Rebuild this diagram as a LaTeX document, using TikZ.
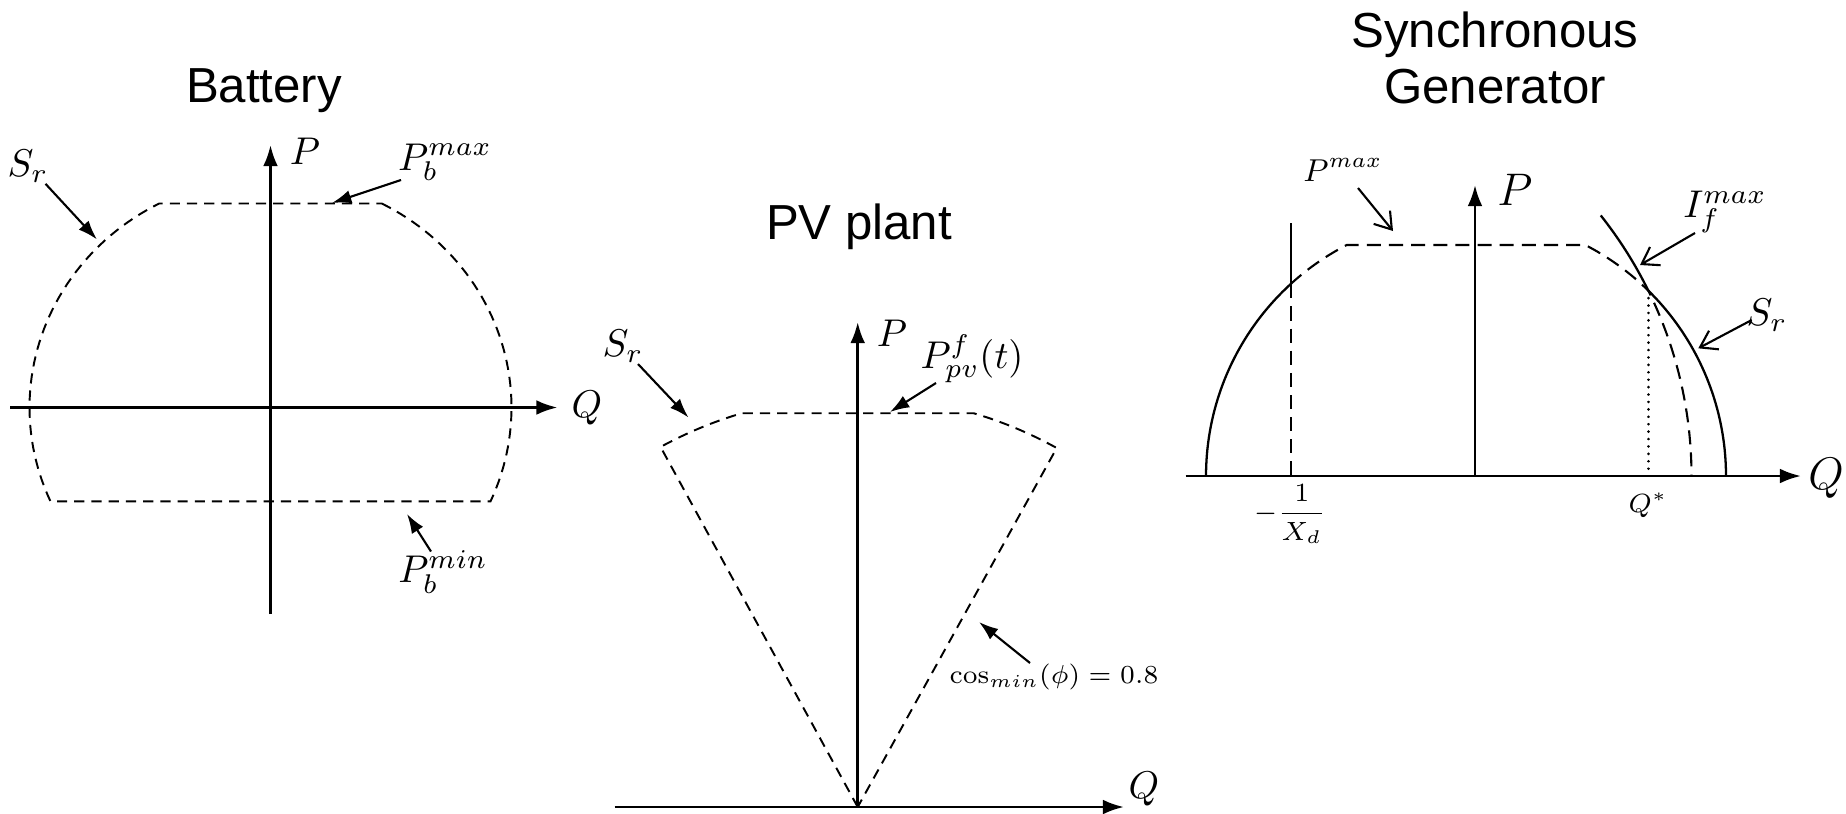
\RequirePackage{fix-cm}
\documentclass[tikz,border=0pt]{standalone}
\usepackage{fontspec}
\newfontfamily\titlefont{Liberation Sans}
\usetikzlibrary{arrows.meta}
\begin{document}
\begin{tikzpicture}[x=0.1mm,y=-0.1mm,
  axis/.style={line width=0.8pt,-{Latex[length=6pt,width=4.2pt]}},
  bnd/.style={line width=0.55pt,dash pattern=on 2.9pt off 2pt},
  sgbnd/.style={line width=0.6pt,dash pattern=on 4pt off 2.3pt},
  sgsolid/.style={line width=0.65pt},
  dotline/.style={line width=0.8pt,line cap=round,dash pattern=on 0.01pt off 2.1pt},
  ann/.style={line width=0.6pt,-{Latex[length=5.5pt,width=3.8pt]}},
  sgann/.style={line width=0.6pt,-{Straight Barb[length=4.5pt,width=6pt]}},
  ttl/.style={font=\titlefont\fontsize{14}{16.1}\selectfont,align=center,inner sep=0pt},
  lbl/.style={font=\fontsize{11}{13}\selectfont,inner sep=0pt},
  lblbig/.style={font=\fontsize{13}{15}\selectfont,inner sep=0pt},
  lblmid/.style={font=\fontsize{9}{11}\selectfont,inner sep=0pt},
  lblsmall/.style={font=\fontsize{7.4}{9}\selectfont,inner sep=0pt},
  lbltiny/.style={font=\fontsize{7.5}{9}\selectfont,inner sep=0pt}
]
\useasboundingbox (0,0) rectangle (1846,813);

% ================= Battery =================
\node[ttl] (bT) at (264,91) {Battery};
\coordinate (bO) at (270.5,407.5);
\coordinate (bPs) at (270.5,614);
\coordinate (bPe) at (270.5,145);
\coordinate (bQs) at (10,407.5);
\coordinate (bQe) at (557.5,407.5);
\draw[axis] (bPs) -- (bPe);
\draw[axis] (bQs) -- (bQe);
\draw[bnd] plot[domain=62.5:-24.1,samples=50] ({270.5+241*cos(\x)},{407.5-230*sin(\x)})
  -- plot[domain=204.1:117.5,samples=50] ({270.5+241*cos(\x)},{407.5-230*sin(\x)}) -- cycle;
\node[lbl] (bP) at (305,151) {$P$};
\node[lbl] (bQ) at (587,408) {$Q$};
\node[lbl] (bS) at (28,166) {$S_r$};
\node[lbl] (bPmax) at (445,162) {$P_b^{max}$};
\node[lbl] (bPmin) at (443,572) {$P_b^{min}$};
\coordinate (bSa) at (45.5,183.8);
\coordinate (bSb) at (96.9,239.4);
\coordinate (bMa) at (401,180);
\coordinate (bMb) at (332,203);
\coordinate (bNa) at (431,551.5);
\coordinate (bNb) at (407,514);
\draw[ann] (bSa) -- (bSb);
\draw[ann] (bMa) -- (bMb);
\draw[ann] (bNa) -- (bNb);

% ================= PV plant =================
\node[ttl] (pT) at (859,227) {PV plant};
\coordinate (pO) at (857.7,807);
\coordinate (pQs) at (614.5,807);
\coordinate (pQe) at (1124,807);
\coordinate (pPe) at (857.7,322);
\draw[axis] (pQs) -- (pQe);
\draw[axis] (pO) -- (pPe);
\draw[bnd] (pO) -- plot[domain=118.7:106.4,samples=20] ({857.7+410.5*cos(\x)},{807-410.5*sin(\x)})
  -- plot[domain=73.6:61,samples=20] ({857.7+410.5*cos(\x)},{807-410.5*sin(\x)}) -- cycle;
\node[lbl] (pP) at (892,333) {$P$};
\node[lbl] (pQ) at (1144,789) {$Q$};
\node[lbl] (pS) at (623,346) {$S_r$};
\node[lbl] (pF) at (972,359) {$P_{pv}^f(t)$};
\node[lblsmall] (pC) at (1054,677) {$\cos_{min}(\phi)=0.8$};
\coordinate (pSa) at (638,364);
\coordinate (pSb) at (688.5,417.5);
\coordinate (pFa) at (936,383);
\coordinate (pFb) at (890,412);
\coordinate (pCa) at (1030,663);
\coordinate (pCb) at (979,622);
\draw[ann] (pSa) -- (pSb);
\draw[ann] (pFa) -- (pFb);
\draw[ann] (pCa) -- (pCb);

% ================= Synchronous Generator =================
\node[ttl] (sT) at (1495,57.7) {Synchronous\\Generator};
\coordinate (sO) at (1475,476);
\coordinate (sQs) at (1185.5,476);
\coordinate (sQe) at (1801,476);
\coordinate (sPe) at (1475,185);
\draw[axis] (sQs) -- (sQe);
\draw[axis] (sO) -- (sPe);
% stator limit S_r (left, solid)
\draw[sgsolid] plot[domain=180:132.4,samples=40] ({1466+260*cos(\x)},{476-260*sin(\x)});
% stator limit S_r (right, solid)
\draw[sgsolid] plot[domain=45.47:0,samples=40] ({1466+260*cos(\x)},{476-260*sin(\x)});
% field current limit (solid, upper part)
\draw[sgsolid] plot[domain=38.4:26.2,samples=20] ({1272+419.5*cos(\x)},{476-419.5*sin(\x)});
% capability boundary (dashed)
\draw[sgbnd] plot[domain=132.4:117.3,samples=20] ({1466+260*cos(\x)},{476-260*sin(\x)})
  -- plot[domain=62.7:45.47,samples=20] ({1466+260*cos(\x)},{476-260*sin(\x)})
  -- plot[domain=26.2:0,samples=40] ({1272+419.5*cos(\x)},{476-419.5*sin(\x)});
% -1/Xd line
\coordinate (sXa) at (1290.7,223);
\coordinate (sXb) at (1290.7,284.3);
\coordinate (sXc) at (1290.7,476);
\draw[sgsolid] (sXa) -- (sXb);
\draw[sgbnd] (sXb) -- (sXc);
% Q* dotted
\coordinate (sQa) at (1648.3,290.7);
\coordinate (sQb) at (1648.3,476);
\draw[dotline] (sQa) -- (sQb);
% labels
\node[lblbig] (sP) at (1515,190) {$P$};
\node[lblbig] (sQ) at (1826,478) {$Q$};
\node[lblmid] (sPmax) at (1343,170) {$P^{max}$};
\node[lbl] (sIf) at (1725,212) {$I_f^{max}$};
\node[lbl] (sS) at (1767,315) {$S_r$};
\node[lbltiny] (sQst) at (1648,505) {$Q^*$};
\node[lbltiny] (sXd) at (1290,514) {$-{\displaystyle\frac{1}{X_d}}$};
\coordinate (sMa) at (1358,188);
\coordinate (sMb) at (1393,231);
\coordinate (sIa) at (1695,233);
\coordinate (sIb) at (1640,265);
\coordinate (sSa) at (1751.7,320);
\coordinate (sSb) at (1698.3,348.3);
\draw[sgann] (sMa) -- (sMb);
\draw[sgann] (sIa) -- (sIb);
\draw[sgann] (sSa) -- (sSb);
\end{tikzpicture}
\end{document}
